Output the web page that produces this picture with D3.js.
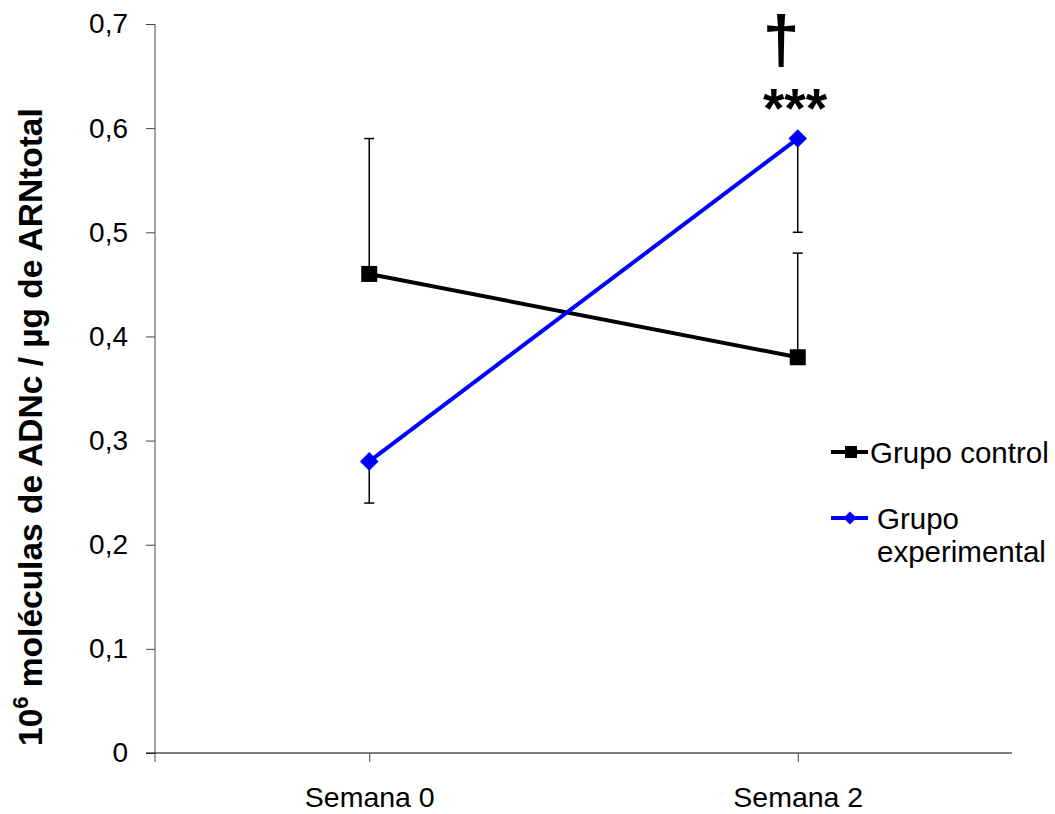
<!DOCTYPE html>
<html>
<head>
<meta charset="utf-8">
<script src="https://cdn.jsdelivr.net/npm/d3@7"></script>
<style>
  body { margin: 0; background: #fff; }
  text { font-family: "Liberation Sans", Arial, sans-serif; }
</style>
</head>
<body>
<div id="chart"></div>
<script>
var svgWidth = 1055;
var svgHeight = 814;

// data
var weeks = ["Semana 0", "Semana 2"];
var controlValues = [0.46, 0.38];
var controlErrors = [0.13, 0.10];      // drawn upward
var experimentalValues = [0.28, 0.59];
var experimentalErrors = [0.04, 0.09]; // drawn downward
var yTicks = [0, 0.1, 0.2, 0.3, 0.4, 0.5, 0.6, 0.7];

var margin = { top: 24, right: 43, bottom: 61, left: 155 };
var plotWidth = svgWidth - margin.left - margin.right;
var plotHeight = svgHeight - margin.top - margin.bottom;

var svg = d3.select("#chart")
  .append("svg")
  .attr("width", svgWidth)
  .attr("height", svgHeight);

var plot = svg.append("g")
  .attr("transform", `translate(${margin.left},${margin.top})`);

var x = d3.scalePoint()
  .domain(weeks)
  .range([0, plotWidth])
  .padding(0.5);

var y = d3.scaleLinear()
  .domain([0, 0.7])
  .range([plotHeight, 0]);

// y axis
var yAxis = plot.append("g")
  .call(d3.axisLeft(y)
    .tickValues(yTicks)
    .tickSize(9)
    .tickPadding(18)
    .tickFormat(d => d === 0 ? "0" : d3.format(".1f")(d).replace(".", ",")));
yAxis.select(".domain").attr("stroke", "#444").attr("d", `M0,0V${plotHeight + 9}`);
yAxis.selectAll(".tick line").attr("stroke", "#444");
yAxis.selectAll("text")
  .style("font-size", "28px")
  .attr("fill", "#000");

// x axis
var xAxis = plot.append("g")
  .attr("transform", `translate(0,${plotHeight})`)
  .call(d3.axisBottom(x).tickSize(9).tickPadding(25));
xAxis.select(".domain").attr("stroke", "#000").attr("d", `M-9,0H${plotWidth}`);
xAxis.selectAll(".tick line").attr("stroke", "#444");
xAxis.selectAll("text")
  .style("font-size", "28.5px")
  .attr("fill", "#000");

// y label
svg.append("text")
  .attr("transform", "translate(42,746) rotate(-90)")
  .attr("text-anchor", "start")
  .style("font-size", "33.5px")
  .style("font-weight", "bold")
  .call(t => {
    t.append("tspan").text("10");
    t.append("tspan").attr("dy", -14).style("font-size", "22px").text("6");
    t.append("tspan").attr("dy", 14).text(" moléculas de ADNc / µg de ARNtotal");
  });

// error bars
function errorBars(values, errors, dir) {
  var g = plot.append("g").attr("stroke", "#000").attr("stroke-width", 1.5);
  values.forEach(function (v, i) {
    var cx = x(weeks[i]);
    var end = v + dir * errors[i];
    g.append("line")
      .attr("x1", cx).attr("x2", cx)
      .attr("y1", y(v)).attr("y2", y(end));
    g.append("line")
      .attr("x1", cx - 5).attr("x2", cx + 5)
      .attr("y1", y(end)).attr("y2", y(end));
  });
}
errorBars(controlValues, controlErrors, 1);
errorBars(experimentalValues, experimentalErrors, -1);

var line = d3.line()
  .x((d, i) => x(weeks[i]))
  .y(d => y(d));

// control series
plot.append("path")
  .datum(controlValues)
  .attr("fill", "none")
  .attr("stroke", "#000")
  .attr("stroke-width", 4)
  .attr("d", line);
plot.selectAll(".sq")
  .data(controlValues)
  .enter()
  .append("rect")
  .attr("x", (d, i) => x(weeks[i]) - 8)
  .attr("y", d => y(d) - 8)
  .attr("width", 16)
  .attr("height", 16)
  .attr("fill", "#000");

// experimental series
plot.append("path")
  .datum(experimentalValues)
  .attr("fill", "none")
  .attr("stroke", "#0000ff")
  .attr("stroke-width", 4)
  .attr("d", line);
var diamond = d3.symbol().type(d3.symbolDiamond2).size(220);
plot.selectAll(".dm")
  .data(experimentalValues)
  .enter()
  .append("path")
  .attr("d", diamond)
  .attr("transform", (d, i) => `translate(${x(weeks[i])},${y(d)})`)
  .attr("fill", "#0000ff");

// significance marks
svg.append("text")
  .attr("x", 781).attr("y", 62)
  .attr("text-anchor", "middle")
  .style("font-size", "66px")
  .style("font-weight", "bold")
  .text("†");
svg.append("text")
  .attr("x", 795).attr("y", 127)
  .attr("text-anchor", "middle")
  .style("font-size", "55px")
  .style("font-weight", "bold")
  .text("***");

// legend
var legend = svg.append("g");
legend.append("line")
  .attr("x1", 831).attr("x2", 868).attr("y1", 452).attr("y2", 452)
  .attr("stroke", "#000").attr("stroke-width", 4);
legend.append("rect")
  .attr("x", 845).attr("y", 446).attr("width", 12).attr("height", 12)
  .attr("fill", "#000");
legend.append("text")
  .attr("x", 870).attr("y", 463)
  .style("font-size", "29.5px")
  .text("Grupo control");

legend.append("line")
  .attr("x1", 831).attr("x2", 868).attr("y1", 518).attr("y2", 518)
  .attr("stroke", "#0000ff").attr("stroke-width", 4);
legend.append("path")
  .attr("d", d3.symbol().type(d3.symbolDiamond2).size(110))
  .attr("transform", "translate(850,518)")
  .attr("fill", "#0000ff");
legend.append("text")
  .attr("x", 877).attr("y", 529)
  .style("font-size", "29.5px")
  .call(t => {
    t.append("tspan").attr("x", 877).text("Grupo");
    t.append("tspan").attr("x", 877).attr("dy", 33).text("experimental");
  });
</script>
</body>
</html>
